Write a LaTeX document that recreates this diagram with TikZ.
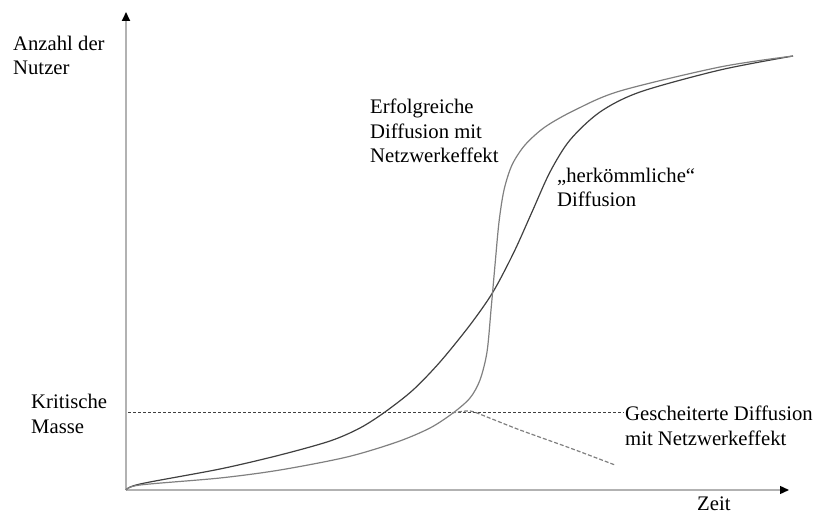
\documentclass[tikz,border=0pt]{standalone}
\usepackage{fontspec}
\setmainfont{Liberation Serif}
\usetikzlibrary{arrows.meta}
\definecolor{darkCurve}{RGB}{64,64,64}
\definecolor{lightCurve}{RGB}{128,128,128}
\colorlet{yAxisGray}{gray!60}
\colorlet{xAxisGray}{gray!140!black}

\begin{document}
\begin{tikzpicture}[x=1pt,y=-1pt,font=\fontsize{20.7}{24.8}\selectfont]
    \tikzset{
        lbl/.style={
            anchor=base west,
            align=left,
            inner sep=0pt
        },
        axis/.style={
            line width=1.4pt,
            -{Triangle[length=9pt,width=8pt,color=black]}
        },
        curve/.style={
            line width=1.2pt,
            smooth,
            tension=0.5
        }
    }
    \useasboundingbox (0,0) rectangle (817,513);

    % Axes
    \coordinate (O) at (126,490);
    \coordinate (Ytop) at (126,12);
    \coordinate (Xend) at (789,490);
    \draw[axis,yAxisGray,line width=2pt] (O) -- (Ytop);
    \draw[axis,xAxisGray] (O) -- (Xend);

    % Axis labels (anchor = baseline of last line)
    \node[lbl] (ylab) at (13,75) {Anzahl der\\Nutzer};
    \node[lbl] (xlab) at (697,510) {Zeit};

    % Critical mass
    \node[lbl] (krit) at (31,433) {Kritische\\Masse};
    \coordinate (kmL) at (128,412);
    \coordinate (kmR) at (624,412);
    \draw[darkCurve,line width=0.8pt,dash pattern=on 3pt off 2pt] (kmL) -- (kmR);

    % Conventional diffusion
    \draw[curve,darkCurve] plot coordinates {
        (O) (140,484) (220,469) (280,455) (330,441) (360,428) (385,412)
        (413,390) (440,362) (470,325) (493,292) (514,252) (532,212)
        (550,172) (570,140) (600,112) (640,92) (720,70) (793,56)};

    % Successful diffusion with network effect
    \draw[curve,lightCurve] plot coordinates {
        (O) (140,485) (220,478) (280,470) (347,457) (397,442) (430,428)
        (453,413) (470,398) (480,380) (487,352) (491,310) (495,265)
        (499,222) (504,190) (512,165) (525,145) (545,127) (575,110)
        (620,91) (720,67) (793,56)};

    % Failed diffusion with network effect
    \draw[curve,lightCurve,dash pattern=on 4pt off 2pt] plot coordinates {
        (452,413) (470,411) (487,417) (520,430) (570,448) (615,465)};

    % Curve labels
    \node[lbl] (erfolg) at (370,163) {Erfolgreiche\\Diffusion mit\\Netzwerkeffekt};
    \node[lbl] (herk) at (557,207) {„herkömmliche“\\Diffusion};
    \node[lbl] (gesch) at (625,445) {Gescheiterte Diffusion\\mit Netzwerkeffekt};
\end{tikzpicture}
\end{document}
